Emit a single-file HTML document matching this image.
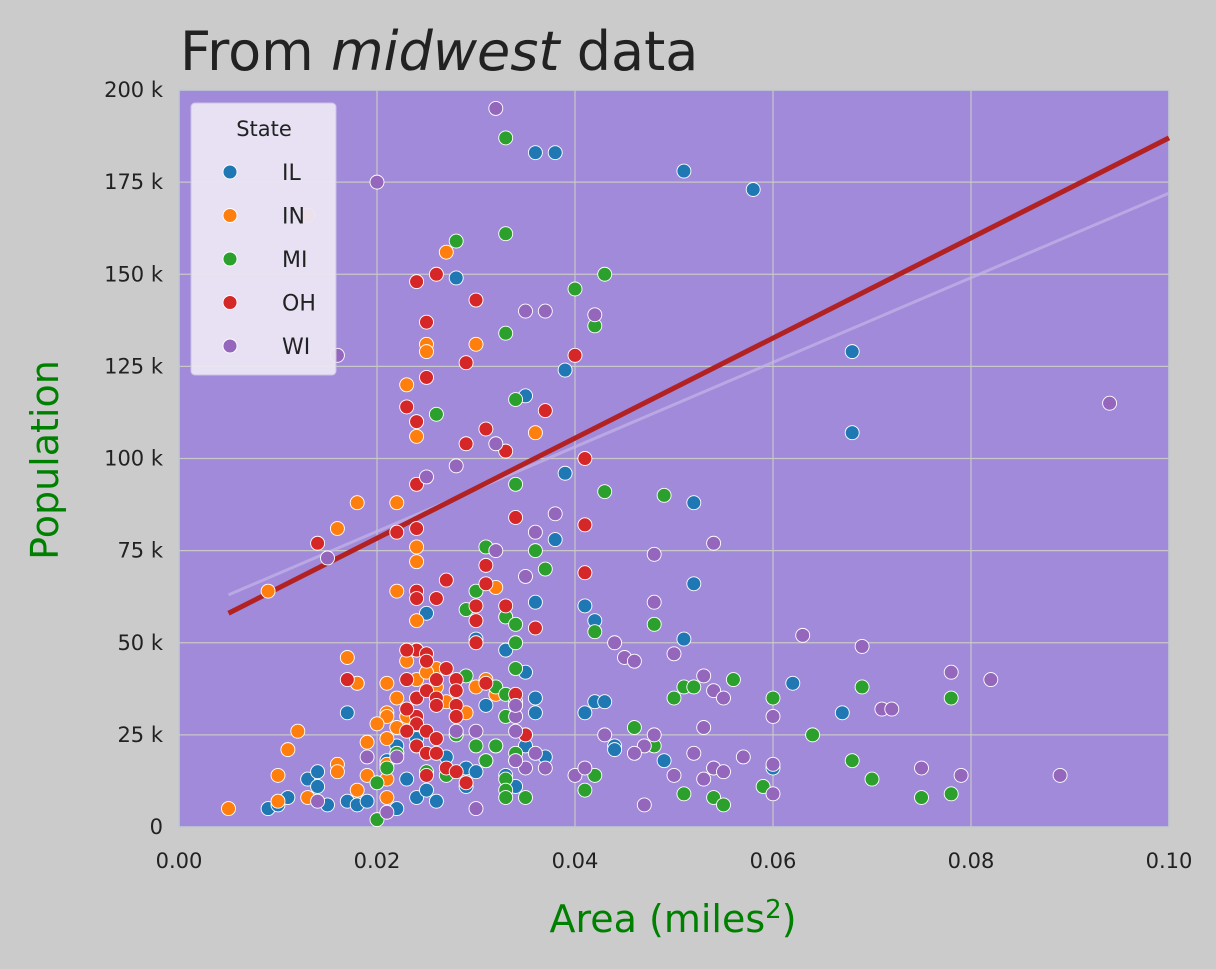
<!DOCTYPE html>
<html><head><meta charset="utf-8">
<style>
body{margin:0;background:#cbcbcb;}
svg{display:block;font-family:"DejaVu Sans","Liberation Sans",sans-serif;}
</style></head>
<body>
<svg id="chart" width="1216" height="969">
<rect width="1216" height="969" fill="#cbcbcb"/>
<rect x="179" y="90" width="990" height="737" fill="#a08ad9" stroke="#a9d3ee" stroke-width="1.5"/>
<g id="grid"></g>
<g id="lines"></g>
<g id="points"></g>
<g id="ticks"></g>
<text x="180" y="70" font-size="54" fill="#222">From <tspan font-style="italic">midwest</tspan> data</text>
<text x="673" y="932" font-size="38" fill="#008000" text-anchor="middle">Area (miles<tspan dy="-14" font-size="26">2</tspan><tspan dy="14">)</tspan></text>
<text transform="translate(58,460) rotate(-90)" font-size="38" fill="#008000" text-anchor="middle">Population</text>
<g id="legend"></g>
</svg>
<script>
const xTicks=[0,0.02,0.04,0.06,0.08,0.10];
const xTickLabels=["0.00","0.02","0.04","0.06","0.08","0.10"];
const yTicks=[0,25,50,75,100,125,150,175,200];
const yTickLabels=["0","25 k","50 k","75 k","100 k","125 k","150 k","175 k","200 k"];
const states=["IL","IN","MI","OH","WI"];
const colors=["#1f77b4","#ff7f0e","#2ca02c","#d62728","#9467bd"];
const fitX=[0.005,0.10];
const fitY=[58,187];
const fit2Y=[63,172];
const IL=[[0.036,183],[0.038,183],[0.051,178],[0.058,173],[0.068,129],[0.068,107],[0.028,149],[0.039,124],[0.035,117],[0.039,96],[0.052,88],[0.038,78],[0.052,66],[0.036,61],[0.041,60],[0.042,56],[0.025,58],[0.051,51],[0.030,51],[0.033,48],[0.035,42],[0.062,39],[0.042,34],[0.043,34],[0.036,35],[0.036,31],[0.041,31],[0.067,31],[0.018,39],[0.017,31],[0.031,33],[0.044,22],[0.044,21],[0.032,22],[0.035,22],[0.037,19],[0.049,18],[0.029,16],[0.030,15],[0.024,24],[0.022,22],[0.023,13],[0.013,13],[0.014,15],[0.014,11],[0.015,6],[0.017,7],[0.018,6],[0.019,7],[0.009,5],[0.010,6],[0.011,8],[0.022,5],[0.024,8],[0.026,7],[0.020,12],[0.025,10],[0.029,11],[0.031,18],[0.033,14],[0.034,11],[0.021,18],[0.027,19],[0.060,16],[0.054,16]];
const IN=[[0.013,166],[0.027,156],[0.025,131],[0.025,129],[0.030,131],[0.023,120],[0.024,110],[0.024,106],[0.036,107],[0.018,88],[0.022,88],[0.016,81],[0.024,76],[0.024,72],[0.009,64],[0.022,64],[0.032,65],[0.024,56],[0.017,46],[0.026,43],[0.023,45],[0.024,40],[0.021,39],[0.018,39],[0.022,35],[0.021,31],[0.021,30],[0.022,27],[0.020,28],[0.021,24],[0.019,23],[0.012,26],[0.011,21],[0.016,17],[0.016,15],[0.019,14],[0.021,13],[0.010,14],[0.013,8],[0.010,7],[0.005,5],[0.018,10],[0.021,8],[0.021,17],[0.023,30],[0.024,35],[0.027,34],[0.028,30],[0.029,31],[0.030,38],[0.031,40],[0.032,36],[0.024,48],[0.025,42],[0.022,20],[0.026,38],[0.028,25]];
const MI=[[0.033,187],[0.033,161],[0.028,159],[0.043,150],[0.040,146],[0.042,136],[0.033,134],[0.026,112],[0.034,116],[0.034,93],[0.043,91],[0.049,90],[0.031,76],[0.036,75],[0.037,70],[0.030,64],[0.029,59],[0.033,57],[0.034,55],[0.034,50],[0.042,53],[0.048,55],[0.034,43],[0.029,41],[0.032,38],[0.033,36],[0.034,34],[0.050,35],[0.051,38],[0.052,38],[0.056,40],[0.060,35],[0.069,38],[0.078,35],[0.033,30],[0.035,25],[0.028,25],[0.032,22],[0.034,20],[0.030,22],[0.046,27],[0.048,22],[0.064,25],[0.068,18],[0.070,13],[0.033,13],[0.033,10],[0.033,8],[0.035,8],[0.041,10],[0.042,14],[0.051,9],[0.054,8],[0.055,6],[0.059,11],[0.075,8],[0.078,9],[0.020,2],[0.022,20],[0.021,16],[0.024,22],[0.031,18],[0.034,18],[0.025,15],[0.027,14],[0.020,12]];
const OH=[[0.030,143],[0.024,148],[0.026,150],[0.025,137],[0.040,128],[0.029,126],[0.025,122],[0.023,114],[0.037,113],[0.024,110],[0.031,108],[0.033,102],[0.029,104],[0.041,100],[0.024,93],[0.034,84],[0.041,82],[0.024,81],[0.022,80],[0.014,77],[0.031,71],[0.041,69],[0.027,67],[0.031,66],[0.024,64],[0.026,62],[0.024,62],[0.030,60],[0.033,60],[0.030,56],[0.036,54],[0.030,50],[0.024,48],[0.025,47],[0.023,48],[0.025,45],[0.027,43],[0.026,40],[0.023,40],[0.028,40],[0.028,37],[0.031,39],[0.034,36],[0.024,35],[0.025,37],[0.026,35],[0.017,40],[0.024,30],[0.024,28],[0.025,26],[0.023,32],[0.028,33],[0.028,30],[0.026,33],[0.034,33],[0.035,25],[0.024,22],[0.025,20],[0.026,24],[0.026,20],[0.025,14],[0.027,16],[0.028,15],[0.029,12],[0.023,26]];
const WI=[[0.032,195],[0.020,175],[0.035,140],[0.037,140],[0.042,139],[0.016,128],[0.032,104],[0.028,98],[0.025,95],[0.094,115],[0.038,85],[0.036,80],[0.032,75],[0.015,73],[0.054,77],[0.048,74],[0.035,68],[0.048,61],[0.063,52],[0.069,49],[0.044,50],[0.045,46],[0.046,45],[0.050,47],[0.053,41],[0.054,37],[0.055,35],[0.078,42],[0.082,40],[0.071,32],[0.072,32],[0.060,30],[0.053,27],[0.043,25],[0.048,25],[0.034,30],[0.034,33],[0.034,26],[0.030,26],[0.028,26],[0.022,19],[0.019,19],[0.047,22],[0.046,20],[0.052,20],[0.057,19],[0.053,13],[0.054,16],[0.055,15],[0.050,14],[0.060,17],[0.060,9],[0.075,16],[0.079,14],[0.089,14],[0.040,14],[0.041,16],[0.047,6],[0.030,5],[0.021,4],[0.014,7],[0.035,16],[0.036,20],[0.037,16],[0.034,18]];
const series=[IL,IN,MI,OH,WI];

const NS="http://www.w3.org/2000/svg";
const X0=179,X1=1169,Y0=827,Y1=90;
function xs(v){return X0+(v-0)/(0.10-0)*(X1-X0);}
function ys(v){return Y0-(v-0)/(200-0)*(Y0-Y1);}
function mk(tag,attrs,parent){const e=document.createElementNS(NS,tag);for(const k in attrs)e.setAttribute(k,attrs[k]);parent.appendChild(e);return e;}
const grid=document.getElementById('grid'),ticks=document.getElementById('ticks');
xTicks.forEach((t,i)=>{
  const l=mk('line',{x1:xs(t),x2:xs(t),y1:Y1,y2:Y0,stroke:'#c8c8c8','stroke-width':1.2},grid);
  
  
  const tx=mk('text',{x:xs(t),y:868,'font-size':21,fill:'#222','text-anchor':'middle'},ticks);
  tx.textContent=xTickLabels[i];
  
  
});
yTicks.forEach((t,i)=>{
  const l=mk('line',{x1:X0,x2:X1,y1:ys(t),y2:ys(t),stroke:'#c8c8c8','stroke-width':1.2},grid);
  
  
  const tx=mk('text',{x:163,y:ys(t)+7,'font-size':21,fill:'#222','text-anchor':'end'},ticks);
  tx.textContent=yTickLabels[i];
  
  
});
const lines=document.getElementById('lines');
const f2=mk('line',{x1:xs(fitX[0]),y1:ys(fit2Y[0]),x2:xs(fitX[1]),y2:ys(fit2Y[1]),stroke:'#c4b6ea','stroke-width':3,opacity:0.7},lines);


const pts=document.getElementById('points');
series.forEach((s,si)=>{
  s.forEach(p=>{
    const c=mk('circle',{cx:xs(p[0]),cy:ys(p[1]),r:7,fill:colors[si],stroke:'#fff','stroke-width':0.9},pts);
    
    
  });
});
const f1=mk('line',{x1:xs(fitX[0]),y1:ys(fitY[0]),x2:xs(fitX[1]),y2:ys(fitY[1]),stroke:'#b22222','stroke-width':5},lines);


const lg=document.getElementById('legend');
mk('rect',{x:191,y:103,width:145,height:272,rx:4,fill:'#ebe6f5',stroke:'#cfc7e6',opacity:0.95},lg);
const lt=mk('text',{x:264,y:136,'font-size':21,fill:'#222','text-anchor':'middle'},lg);
lt.textContent='State';


states.forEach((s,i)=>{
  const y=172+i*43.5;
  const c=mk('circle',{cx:230,cy:y,r:7,fill:colors[i],stroke:'#fff','stroke-width':0.9},lg);
  
  
  const t=mk('text',{x:282,y:y+8,'font-size':22,fill:'#222'},lg);
  t.textContent=s;
  
  
});
</script>
</body></html>
